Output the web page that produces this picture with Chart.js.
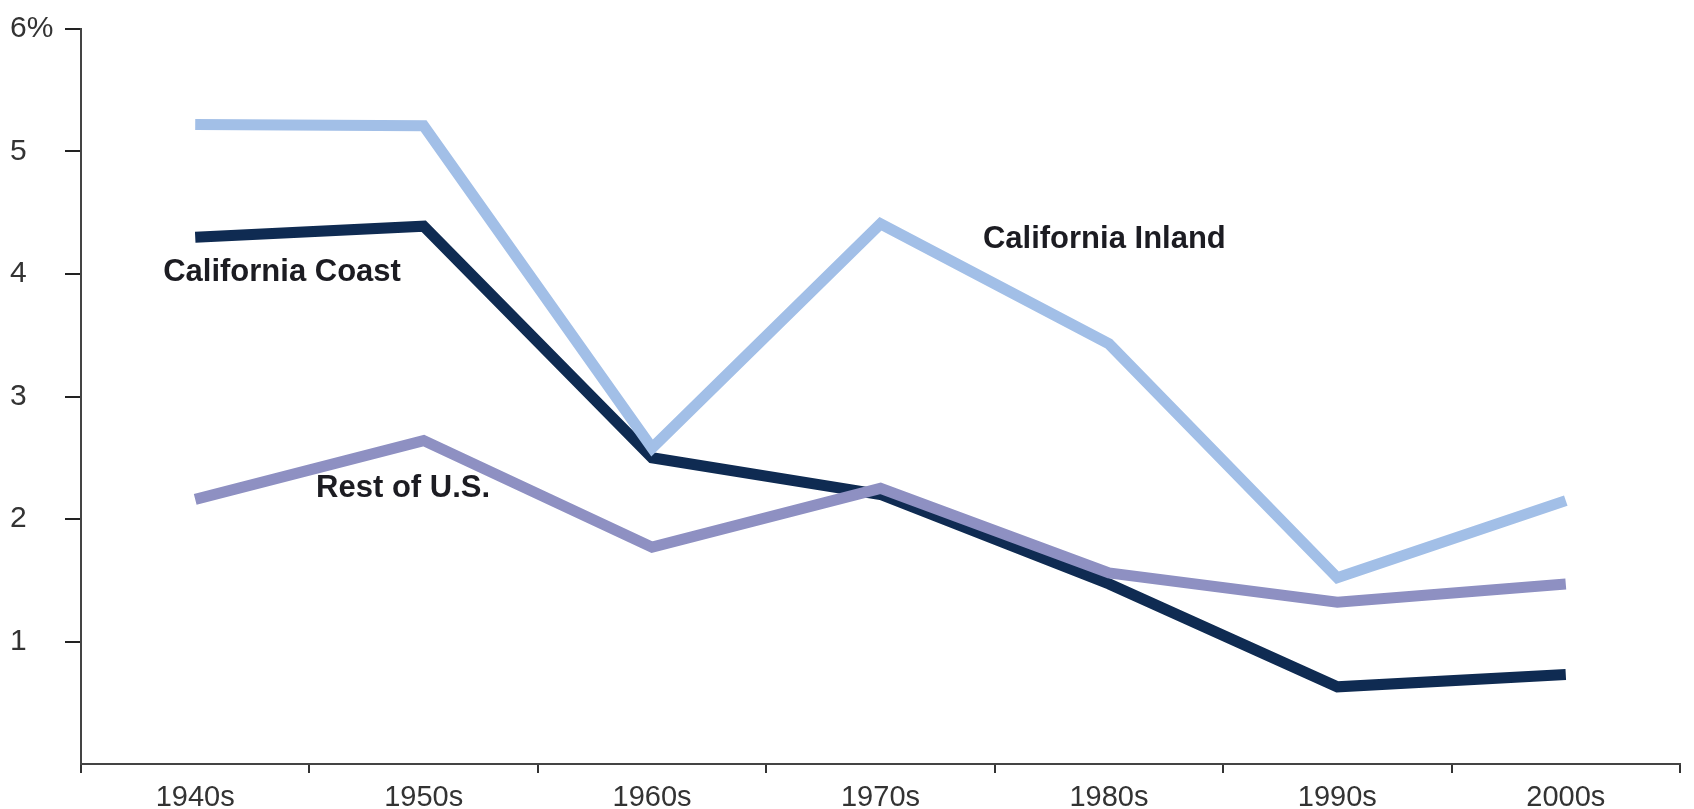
<!DOCTYPE html>
<html>
<head>
<meta charset="utf-8">
<script src="https://cdn.jsdelivr.net/npm/chart.js@4"></script>
<style>
  html, body { margin: 0; padding: 0; background: #fff; }
  #wrap { width: 1694px; height: 809px; position: relative; }
</style>
</head>
<body>
<div id="wrap"><canvas id="chart"></canvas></div>
<script>
// --- Data ---
const decades = ['1940s', '1950s', '1960s', '1970s', '1980s', '1990s', '2000s'];
const californiaInland = [5.22, 5.21, 2.58, 4.41, 3.43, 1.52, 2.15];
const californiaCoast = [4.30, 4.39, 2.50, 2.20, 1.47, 0.63, 0.73];
const restOfUS = [2.16, 2.64, 1.77, 2.25, 1.56, 1.32, 1.47];
const yTicks = [0, 1, 2, 3, 4, 5, 6];

// series names written next to the lines (category index, value)
const seriesLabels = [
    { text: 'California Coast', at: 0.38, value: 4.01 },
    { text: 'California Inland', at: 3.98, value: 4.28 },
    { text: 'Rest of U.S.', at: 0.91, value: 2.25 }
];

const inlineLabels = {
    id: 'inlineLabels',
    afterDatasetsDraw(chart) {
        const { ctx, scales: { x, y } } = chart;
        const step = x.getPixelForValue(1) - x.getPixelForValue(0);
        ctx.save();
        ctx.font = 'bold 31px "Liberation Sans", Arial, sans-serif';
        ctx.fillStyle = '#1c1c22';
        ctx.textAlign = 'center';
        ctx.textBaseline = 'middle';
        seriesLabels.forEach(l => {
            const whole = Math.floor(l.at);
            const px = x.getPixelForValue(whole) + (l.at - whole) * step;
            ctx.fillText(l.text, px, y.getPixelForValue(l.value));
        });
        ctx.restore();
    }
};

const lineStyle = {
    borderWidth: 11,
    pointRadius: 0,
    tension: 0,
    borderJoinStyle: 'miter',
    borderCapStyle: 'butt',
    fill: false
};

const ctx = document.getElementById('chart').getContext('2d');
new Chart(ctx, {
    type: 'line',
    data: {
        labels: decades,
        datasets: [
            { label: 'California Inland', data: californiaInland, borderColor: '#a2bfe7', ...lineStyle },
            { label: 'Rest of U.S.', data: restOfUS, borderColor: '#8e90c2', ...lineStyle },
            { label: 'California Coast', data: californiaCoast, borderColor: '#0f2b52', ...lineStyle }
        ]
    },
    options: {
        responsive: true,
        maintainAspectRatio: false,
        animation: false,
        layout: { padding: { top: 29, right: 14, bottom: 0, left: 10 } },
        plugins: {
            legend: { display: false },
            tooltip: { enabled: false }
        },
        scales: {
            x: {
                offset: true,
                grid: {
                    offset: true,
                    drawOnChartArea: false,
                    drawTicks: true,
                    tickLength: 9,
                    color: '#333',
                    lineWidth: 2
                },
                border: { color: '#444', width: 2 },
                ticks: {
                    color: '#333',
                    padding: 8,
                    maxRotation: 0,
                    font: { family: '"Liberation Sans", Arial, sans-serif', size: 29 }
                },
                afterFit: axis => { axis.height = 45; }
            },
            y: {
                min: 0,
                max: 6,
                afterBuildTicks: axis => { axis.ticks = yTicks.map(v => ({ value: v })); },
                afterFit: axis => { axis.width = 71; },
                grid: {
                    drawOnChartArea: false,
                    drawTicks: true,
                    tickLength: 16,
                    color: ctx => ctx.tick && ctx.tick.value === 0 ? 'rgba(0,0,0,0)' : '#222',
                    lineWidth: 2
                },
                border: { color: '#444', width: 2 },
                ticks: {
                    color: '#333',
                    crossAlign: 'far',
                    padding: 0,
                    font: { family: '"Liberation Sans", Arial, sans-serif', size: 30 },
                    callback: v => v === 0 ? '' : (v === 6 ? '6%' : String(v))
                }
            }
        }
    },
    plugins: [inlineLabels]
});
</script>
</body>
</html>
